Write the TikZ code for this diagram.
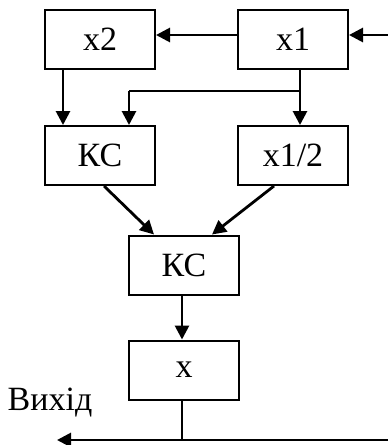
\documentclass[tikz,border=0pt]{standalone}
\usepackage{fontspec}
\setmainfont{Liberation Serif}
\usetikzlibrary{arrows.meta}
\begin{document}
\begin{tikzpicture}[x=1pt,y=-1pt,
  blk/.style={draw, line width=2pt, minimum width=110pt, minimum height=59pt, inner sep=0pt, font=\fontsize{34}{40}\selectfont},
  conn/.style={line width=2.8pt, -{Triangle[length=14pt,width=14pt]}},
  wire/.style={line width=2.8pt}]
\useasboundingbox (0,0) rectangle (388,445);
\node[blk] (x2) at (100,39.5) {x2};
\node[blk] (x1) at (293,39.5) {x1};
\node[blk] (ks1) at (100,155.5) {КС};
\node[blk] (xh) at (293,155.5) {x1/2};
\node[blk] (ks2) at (184,265) {КС};
\node[blk] (xo) at (184,370) {x};
\node[font=\fontsize{34}{40}\selectfont, anchor=center] (out) at (50,403) {Вихід};
\coordinate (inR) at (388,35);
\coordinate (br) at (300,91);
\coordinate (brL) at (129,91);
\coordinate (bot) at (182,440);
\coordinate (botR) at (388,440);
\coordinate (botL) at (57,440);
\draw[conn] (inR) -- (x1.east |- inR);
\draw[conn] (x1.west |- inR) -- (x2.east |- inR);
\draw[conn] (x2.south -| 63,0) -- (ks1.north -| 63,0);
\draw[conn] (x1.south -| br) -- (xh.north -| br);
\draw[wire] (br) -- (brL);
\draw[conn] (brL) -- (ks1.north -| brL);
\draw[conn] (ks1.south -| 104,0) -- (ks2.north -| 154,0);
\draw[conn] (xh.south -| 274,0) -- (ks2.north -| 212,0);
\draw[conn] (ks2.south -| bot) -- (xo.north -| bot);
\draw[wire] (xo.south -| bot) -- (bot);
\draw[conn] (botR) -- (botL);
\end{tikzpicture}
\end{document}
